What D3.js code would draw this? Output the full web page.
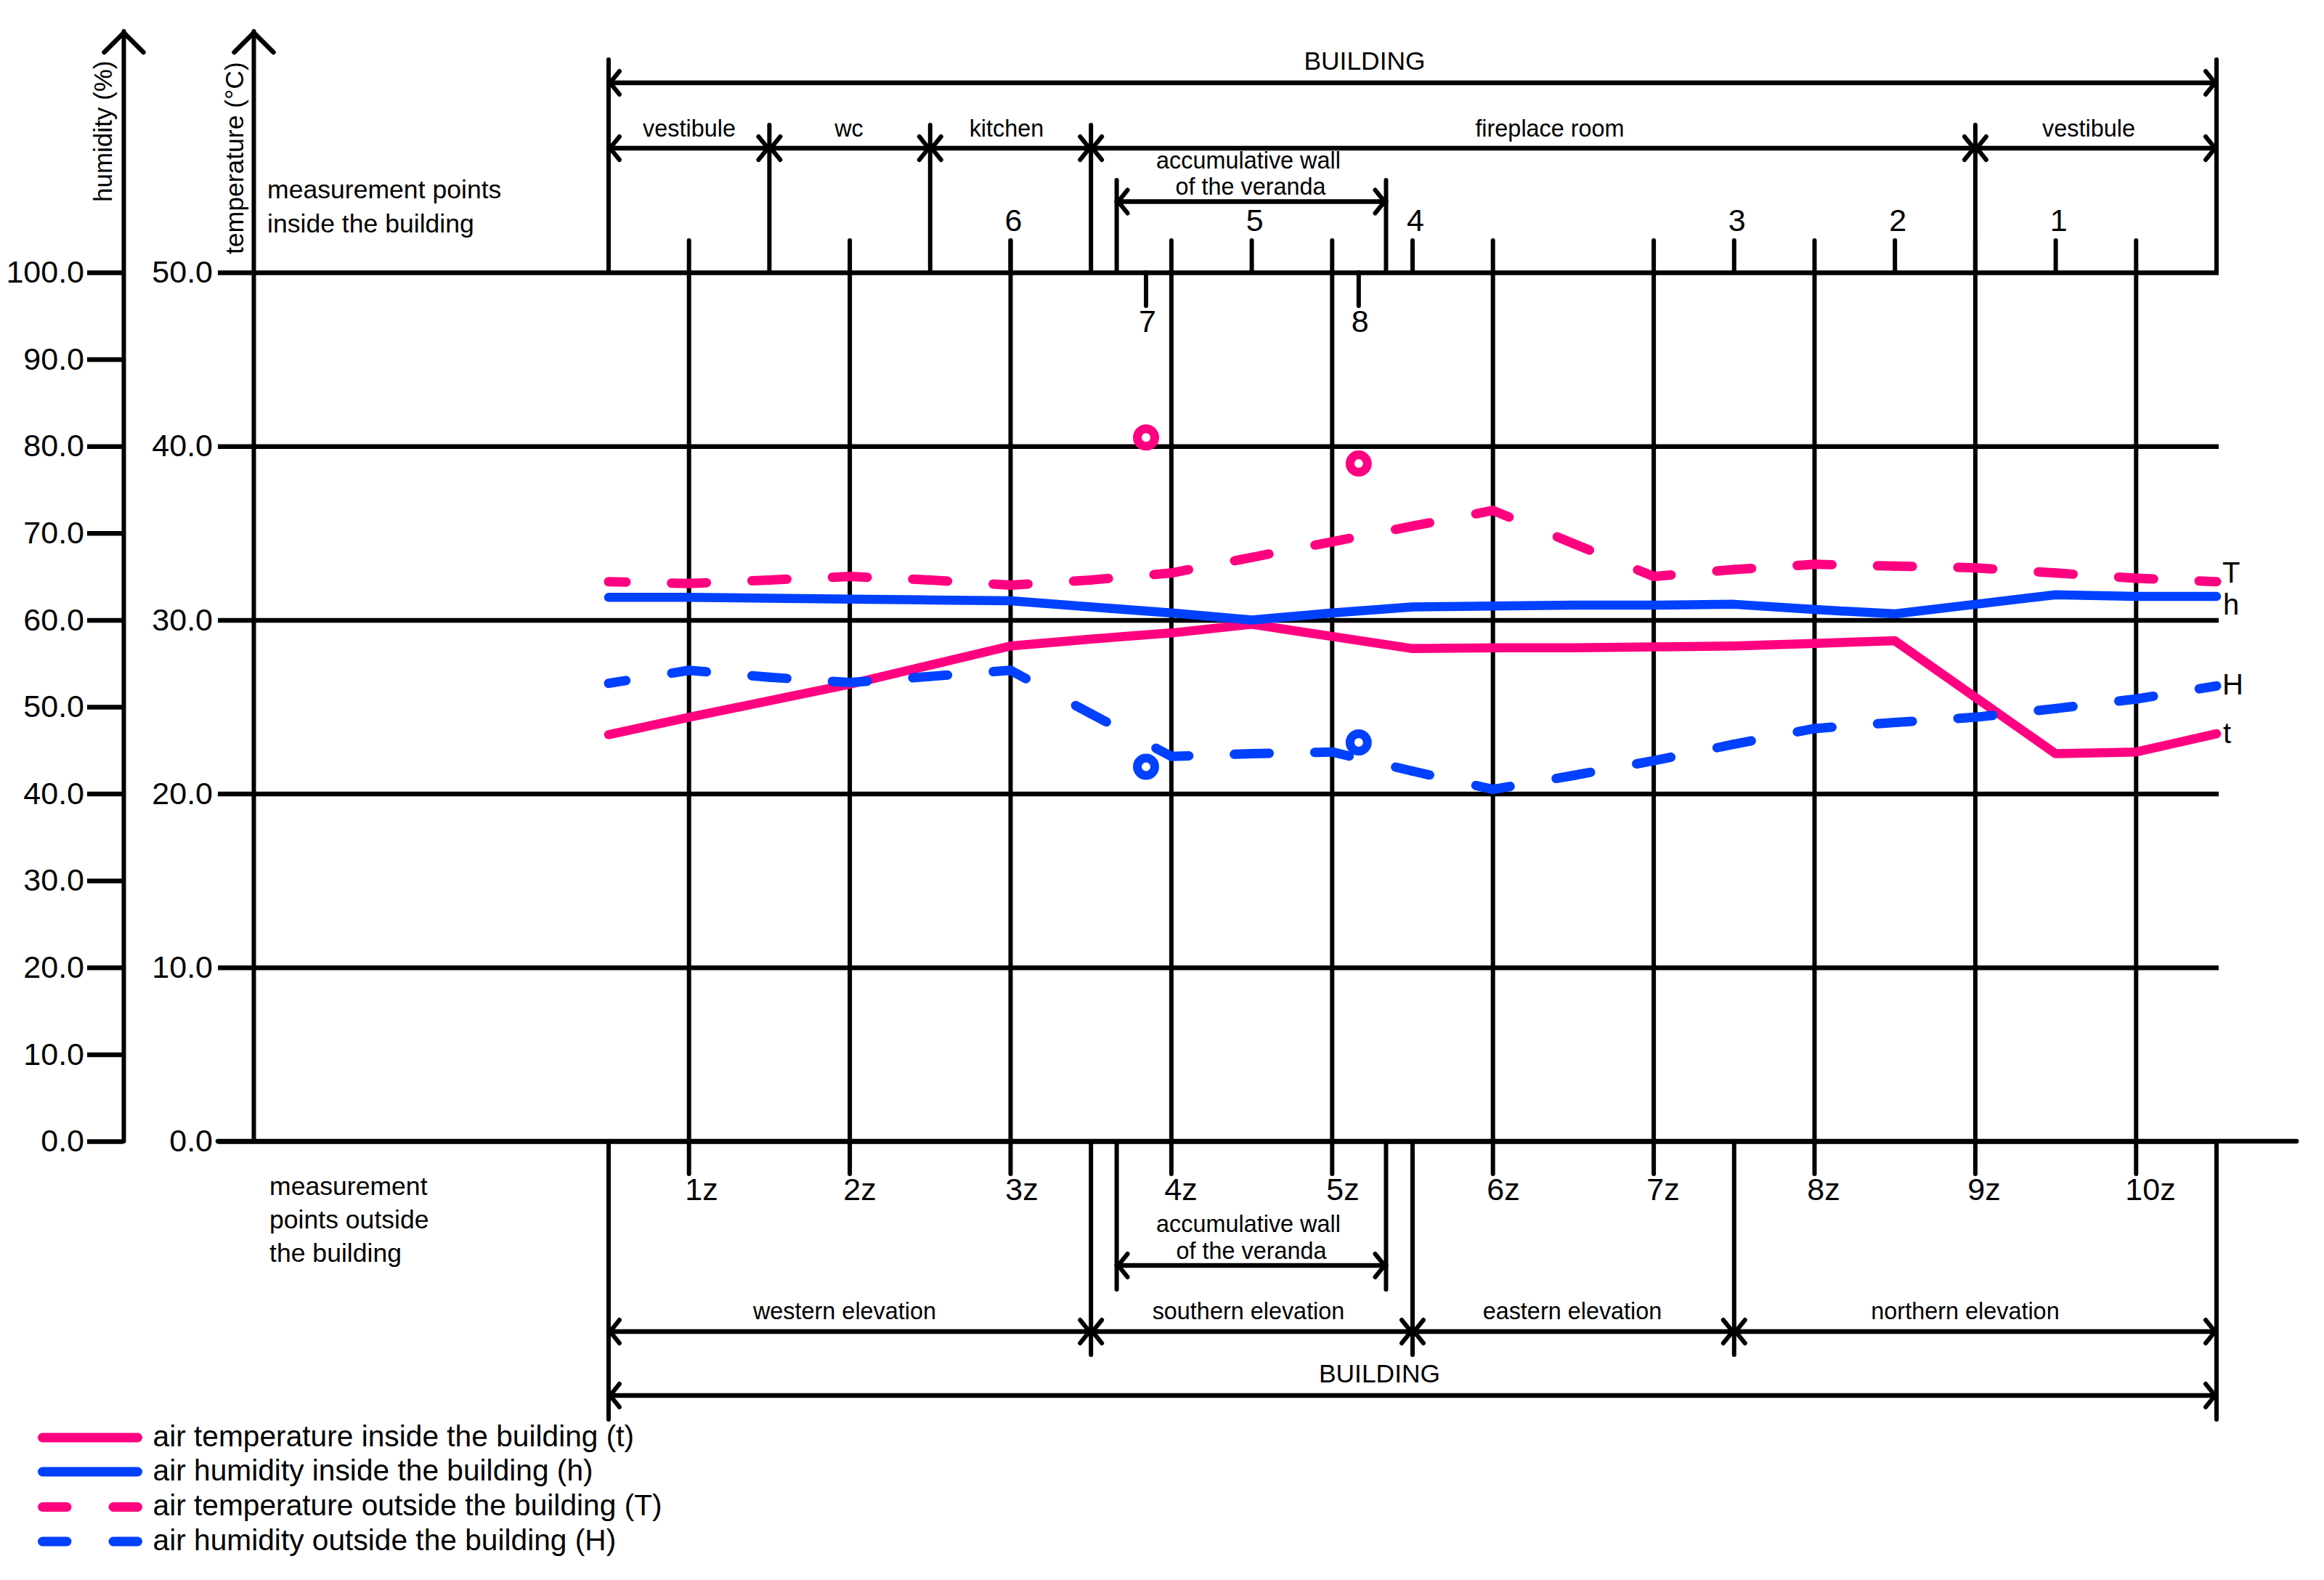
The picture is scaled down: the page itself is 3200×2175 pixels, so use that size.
<!DOCTYPE html>
<html>
<head>
<meta charset="utf-8">
<script src="https://cdn.jsdelivr.net/npm/d3@7"></script>
<style>
  body { margin: 0; background: #fff; }
  text { font-family: "Liberation Sans", Arial, sans-serif; fill: #000; }
</style>
</head>
<body>
<div id="chart"></div>
<script>
// values sit on half-station steps along the wall, k = 0 (left end) .. 20 (right end)
const halfSteps = d3.range(0, 21);
const airTempInside = [23.4, 24.4, 25.35, 26.3, 27.4, 28.5, 28.9, 29.25, 29.75, 29.05, 28.35, 28.4, 28.4, 28.45, 28.5, 28.65, 28.8, 25.55, 22.3, 22.4, 23.45];
const airHumInside = [62.6, 62.6, 62.5, 62.4, 62.3, 62.2, 61.5, 60.8, 60.0, 60.8, 61.5, 61.6, 61.7, 61.7, 61.8, 61.2, 60.7, 61.8, 62.9, 62.7, 62.7];
const airTempOutside = [32.2, 32.1, 32.3, 32.5, 32.3, 32.0, 32.3, 32.7, 33.6, 34.5, 35.4, 36.3, 34.4, 32.5, 32.9, 33.2, 33.1, 33.0, 32.7, 32.4, 32.2];
const airHumOutside = [52.7, 54.2, 53.4, 52.8, 53.5, 54.2, 49.2, 44.3, 44.6, 44.8, 42.6, 40.5, 42.1, 43.8, 45.7, 47.5, 48.2, 48.8, 49.8, 50.9, 52.4];

// points 7 and 8, on the accumulative wall
const wallPoints = [6.685, 9.33];
const wallTemp = [40.5, 39.0];
const wallHum = [43.1, 45.9];

const humTicks = d3.range(0, 101, 10);
const tempTicks = d3.range(0, 51, 10);

const outsideStations = ["1z", "2z", "3z", "4z", "5z", "6z", "7z", "8z", "9z", "10z"];
const outsideStationK = d3.range(1, 20, 2);
const outsideLabelX = [966, 1184, 1407, 1626, 1849, 2070, 2290, 2511, 2732, 2961];

const insideLabels = ["1", "2", "3", "4", "5", "6"];
const insideK = [18, 16, 14, 10, 8, 5];

const roomNames = ["vestibule", "wc", "kitchen", "fireplace room", "vestibule"];
const roomBreaks = [0, 2, 4, 6, 17, 20];
const roomLabelX = [949, 1169, 1386, 2134, 2876];

const elevationNames = ["western elevation", "southern elevation", "eastern elevation", "northern elevation"];
const elevationBreaks = [0, 6, 10, 14, 20];
const elevationLabelX = [1163, 1719, 2165, 2706];

const verandaBreaks = [6.32, 9.67];

const legendNames = ["air temperature inside the building (t)", "air humidity inside the building (h)", "air temperature outside the building (T)", "air humidity outside the building (H)"];

const pink = "#ff0080";
const blue = "#0040ff";

const width = 3200, height = 2175;

const x = d3.scaleLinear().domain([0, 20]).range([838, 3052]);
const yTemp = d3.scaleLinear().domain([0, 50]).range([1571, 375]);
const yHum = d3.scaleLinear().domain([0, 100]).range([1571, 375]);

const svg = d3.select("#chart").append("svg")
    .attr("width", width)
    .attr("height", height)
    .style("display", "block");

svg.append("rect").attr("width", width).attr("height", height).attr("fill", "#fff");

function rule(x1, y1, x2, y2, w) {
    svg.append("line")
        .attr("x1", x1).attr("y1", y1)
        .attr("x2", x2).attr("y2", y2)
        .attr("stroke", "#000")
        .attr("stroke-width", w)
        .attr("stroke-linecap", "round");
}

function label(txt, px, py, size, anchor) {
    return svg.append("text")
        .attr("x", px).attr("y", py)
        .attr("font-size", size)
        .attr("text-anchor", anchor || "middle")
        .text(txt);
}

// dir = 1 opens to the right of the tip, -1 to the left
function arrowWings(px, py, dir) {
    svg.append("path")
        .attr("d", d3.line()([[px + dir * 15, py - 16], [px + dir * 2, py], [px + dir * 15, py + 16]]))
        .attr("fill", "none")
        .attr("stroke", "#000")
        .attr("stroke-width", 6)
        .attr("stroke-linecap", "round");
}

function dimension(py, x0, x1, breaks) {
    rule(x0, py, x1, py, 6.5);
    arrowWings(x0, py, 1);
    arrowWings(x1, py, -1);
    breaks.forEach(b => {
        arrowWings(b, py, 1);
        arrowWings(b, py, -1);
    });
}

function axisArrow(px) {
    rule(px, 43, px, yTemp(0), 6);
    svg.append("path")
        .attr("d", d3.line()([[px - 27, 72], [px, 45], [px + 27, 72]]))
        .attr("fill", "none")
        .attr("stroke", "#000")
        .attr("stroke-width", 6.5)
        .attr("stroke-linecap", "round");
}

// ---- axes
const humAxis = svg.append("g")
    .attr("transform", "translate(170,0)")
    .call(d3.axisLeft(yHum).tickValues(humTicks).tickFormat(d3.format(".1f")).tickSize(50).tickPadding(4));
const tempAxis = svg.append("g")
    .attr("transform", "translate(300,0)")
    .call(d3.axisLeft(yTemp).tickValues(tempTicks).tickFormat(d3.format(".1f")).tickSizeInner(-2755).tickSizeOuter(0).tickPadding(7));

[humAxis, tempAxis].forEach(g => {
    g.select(".domain").remove();
    g.selectAll("line").attr("stroke", "#000").attr("stroke-width", 6.5);
    g.selectAll("text")
        .attr("font-family", "Liberation Sans")
        .attr("font-size", 43)
        .attr("fill", "#000");
});

axisArrow(170.5);
axisArrow(349.5);
rule(300, yTemp(0), 3162, yTemp(0), 6.5);

label("humidity (%)", 0, 0, 35, "start").attr("transform", "translate(154,278) rotate(-90)");
label("temperature (°C)", 0, 0, 35.5, "start").attr("transform", "translate(335,350) rotate(-90)");

label("measurement points", 368, 273, 35.6, "start");
label("inside the building", 368, 320, 35.6, "start");
label("measurement", 371, 1645, 35.6, "start");
label("points outside", 371, 1691, 35.6, "start");
label("the building", 371, 1737, 35.6, "start");

// ---- station lines
outsideStationK.forEach((k, i) => {
    rule(x(k), 331, x(k), 1616, 6);
    label(outsideStations[i], outsideLabelX[i], 1652, 43);
});

insideK.forEach((k, i) => {
    rule(x(k), 331, x(k), 375, 6);
    label(insideLabels[i], x(k) + 4, 318, 43);
});

wallPoints.forEach((k, i) => {
    rule(x(k), 375, x(k), 421, 6);
    label(i === 0 ? "7" : "8", x(k) + 2, 457, 43);
});

// ---- top dimensions
rule(x(0), 82, x(0), 375, 6);
rule(x(20), 82, x(20), 375, 6);
roomBreaks.slice(1, -1).forEach(k => rule(x(k), 172, x(k), 375, 6));
dimension(114, x(0), x(20), []);
dimension(204, x(0), x(20), roomBreaks.slice(1, -1).map(x));
label("BUILDING", 1879, 96, 35.4);
roomNames.forEach((n, i) => label(n, roomLabelX[i], 188, 32.4));

verandaBreaks.forEach(k => {
    rule(x(k), 248, x(k), 375, 6);
    rule(x(k), 1571, x(k), 1775, 6);
});
dimension(277.5, x(verandaBreaks[0]), x(verandaBreaks[1]), []);
dimension(1742, x(verandaBreaks[0]), x(verandaBreaks[1]), []);
label("accumulative wall", 1719, 232, 32.4);
label("of the veranda", 1722, 268, 32.4);
label("accumulative wall", 1719, 1696, 32.4);
label("of the veranda", 1723, 1733, 32.4);

// ---- bottom dimensions
rule(x(0), 1571, x(0), 1954, 6);
rule(x(20), 1571, x(20), 1954, 6);
elevationBreaks.slice(1, -1).forEach(k => rule(x(k), 1571, x(k), 1865, 6));
dimension(1833, x(0), x(20), elevationBreaks.slice(1, -1).map(x));
dimension(1921, x(0), x(20), []);
elevationNames.forEach((n, i) => label(n, elevationLabelX[i], 1816, 32.4));
label("BUILDING", 1899.5, 1903, 35.4);

// ---- series
const seriesLine = (values, y) => d3.line().x(d => x(d)).y(d => y(values[d]));

function drawSolid(values, y, color) {
    svg.append("path")
        .attr("d", seriesLine(values, y)(halfSteps))
        .attr("fill", "none")
        .attr("stroke", color)
        .attr("stroke-width", 12.5)
        .attr("stroke-linejoin", "round")
        .attr("stroke-linecap", "round");
}

// each dash is centred on a data point, so the dash pattern restarts on every step
function drawDashed(values, y, color) {
    const line = seriesLine(values, y);
    const halfDash = 24;
    svg.append("g").selectAll("path")
        .data(d3.pairs(halfSteps))
        .join("path")
        .attr("d", d => line(d))
        .attr("fill", "none")
        .attr("stroke", color)
        .attr("stroke-width", 13)
        .attr("stroke-dasharray", d => {
            const len = Math.hypot(x(d[1]) - x(d[0]), y(values[d[1]]) - y(values[d[0]]));
            return halfDash + " " + (len - 2 * halfDash) + " " + halfDash;
        })
        .attr("stroke-linecap", "round");
}

drawSolid(airTempInside, yTemp, pink);
drawDashed(airTempOutside, yTemp, pink);
drawSolid(airHumInside, yHum, blue);
drawDashed(airHumOutside, yHum, blue);

function drawRings(values, y, color) {
    svg.append("g").selectAll("circle")
        .data(wallPoints)
        .join("circle")
        .attr("cx", d => x(d))
        .attr("cy", (d, i) => y(values[i]))
        .attr("r", 12)
        .attr("fill", "none")
        .attr("stroke", color)
        .attr("stroke-width", 12);
}

drawRings(wallTemp, yTemp, pink);
drawRings(wallHum, yHum, blue);

label("T", 3060, 802, 40, "start");
label("h", 3061, 846, 40, "start");
label("H", 3060, 956, 40, "start");
label("t", 3061, 1023, 40, "start");

// ---- legend
const legendY = [1979, 2026, 2074.5, 2122];
const legendColor = [pink, blue, pink, blue];
legendNames.forEach((n, i) => {
    svg.append("line")
        .attr("x1", 58.5).attr("y1", legendY[i])
        .attr("x2", 189.5).attr("y2", legendY[i])
        .attr("stroke", legendColor[i])
        .attr("stroke-width", 13)
        .attr("stroke-linecap", "round")
        .attr("stroke-dasharray", i < 2 ? null : "33.5 64 33.5");
    label(n, 210.5, legendY[i] + 11.5, 40.7, "start");
});
</script>
</body>
</html>
